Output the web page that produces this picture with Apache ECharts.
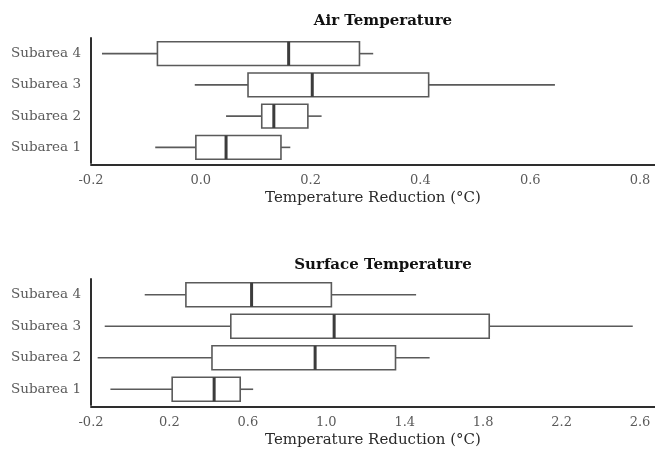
<!DOCTYPE html>
<html>
<head>
<meta charset="utf-8">
<title>Temperature Reduction by Subarea</title>
<script src="https://cdn.jsdelivr.net/npm/echarts@6/dist/echarts.min.js"></script>
<style>
  html, body { margin: 0; padding: 0; background: #fff; }
  #chart { width: 655px; height: 450px; }
</style>
</head>
<body>
<div id="chart"></div>
<script>
// Categories (bottom to top on the y axis)
const categories = ['Subarea 1', 'Subarea 2', 'Subarea 3', 'Subarea 4'];

// Air temperature reduction (°C): five-number summaries per subarea
const airMin    = [-0.083, 0.046, -0.011, -0.180];
const airQ1     = [-0.009, 0.111,  0.086, -0.079];
const airMedian = [ 0.046, 0.133,  0.203,  0.160];
const airQ3     = [ 0.146, 0.195,  0.415,  0.289];
const airMax    = [ 0.163, 0.220,  0.645,  0.314];

// Surface temperature reduction (°C)
const surfMin    = [-0.101, -0.166, -0.130, 0.074];
const surfQ1     = [ 0.214,  0.417,  0.513, 0.284];
const surfMedian = [ 0.428,  0.943,  1.040, 0.619];
const surfQ3     = [ 0.561,  1.353,  1.831, 1.026];
const surfMax    = [ 0.627,  1.527,  2.563, 1.458];

// Axis tick labels
const airTicks  = [-0.2, 0.0, 0.2, 0.4, 0.6, 0.8];
const surfTicks = [-0.2, 0.2, 0.6, 1.0, 1.4, 1.8, 2.2, 2.6];

const FONT = 'DejaVu Serif';
const BOX_COLOR = '#5a5a5a';
const MEDIAN_COLOR = '#3c3c3c';

function buildRows(mins, q1s, meds, q3s, maxs) {
  return categories.map((c, i) => [i, mins[i], q1s[i], meds[i], q3s[i], maxs[i]]);
}

function renderBox(params, api) {
  const cat = api.value(0);
  const pMin = api.coord([api.value(1), cat]);
  const pQ1  = api.coord([api.value(2), cat]);
  const pMed = api.coord([api.value(3), cat]);
  const pQ3  = api.coord([api.value(4), cat]);
  const pMax = api.coord([api.value(5), cat]);
  const band = api.size([0, 1])[1];
  const h = band * 0.76;
  const y = pMed[1];
  return {
    type: 'group',
    children: [
      { type: 'line', shape: { x1: pMin[0], y1: y, x2: pQ1[0], y2: y },
        style: { stroke: BOX_COLOR, lineWidth: 1.6 } },
      { type: 'line', shape: { x1: pQ3[0], y1: y, x2: pMax[0], y2: y },
        style: { stroke: BOX_COLOR, lineWidth: 1.6 } },
      { type: 'rect', shape: { x: pQ1[0], y: y - h / 2, width: pQ3[0] - pQ1[0], height: h },
        style: { fill: '#ffffff', stroke: BOX_COLOR, lineWidth: 1.6 } },
      { type: 'line', shape: { x1: pMed[0], y1: y - h / 2, x2: pMed[0], y2: y + h / 2 },
        style: { stroke: MEDIAN_COLOR, lineWidth: 3 } }
    ]
  };
}

function tickFormatter(ticks) {
  return function (v) {
    const hit = ticks.find(t => Math.abs(t - v) < 1e-6);
    return hit === undefined ? '' : hit.toFixed(1);
  };
}

function axisLine() {
  return { show: true, onZero: false, lineStyle: { color: '#2e2e2e', width: 2 } };
}

function valueAxis(gridIndex, ticks, step, maxExtra) {
  return {
    type: 'value',
    gridIndex: gridIndex,
    min: ticks[0],
    max: ticks[ticks.length - 1] + maxExtra,
    interval: step,
    offset: 2,
    axisLine: axisLine(),
    axisTick: { show: false },
    splitLine: { show: false },
    axisLabel: {
      formatter: tickFormatter(ticks),
      showMaxLabel: false,
      color: '#5a5a5a',
      fontFamily: FONT,
      fontSize: 13,
      margin: 9
    },
    name: 'Temperature Reduction (°C)',
    nameLocation: 'middle',
    nameGap: 26,
    nameTextStyle: { color: '#2a2a2a', fontFamily: FONT, fontSize: 15, verticalAlign: 'top' }
  };
}

function categoryAxis(gridIndex) {
  return {
    type: 'category',
    gridIndex: gridIndex,
    data: categories,
    axisLine: axisLine(),
    axisTick: { show: false },
    axisLabel: { color: '#5a5a5a', fontFamily: FONT, fontSize: 13.5, margin: 10 }
  };
}

const chart = echarts.init(document.getElementById('chart'), null, { renderer: 'canvas' });

chart.setOption({
  animation: false,
  backgroundColor: '#ffffff',
  title: [
    { text: 'Air Temperature', left: 378, top: 9, textAlign: 'center',
      textStyle: { fontFamily: FONT, fontWeight: 'bold', fontSize: 15, color: '#111' } },
    { text: 'Surface Temperature', left: 378, top: 253, textAlign: 'center',
      textStyle: { fontFamily: FONT, fontWeight: 'bold', fontSize: 15, color: '#111' } }
  ],
  grid: [
    { left: 91, right: 0, top: 38, height: 125 },
    { left: 91, right: 0, top: 279, height: 126 }
  ],
  xAxis: [
    valueAxis(0, airTicks, 0.2, 15 / 550),
    valueAxis(1, surfTicks, 0.2, 15 / 196.25)
  ],
  yAxis: [categoryAxis(0), categoryAxis(1)],
  series: [
    {
      type: 'custom', name: 'Air Temperature',
      xAxisIndex: 0, yAxisIndex: 0,
      renderItem: renderBox,
      encode: { x: [1, 2, 3, 4, 5], y: 0 },
      data: buildRows(airMin, airQ1, airMedian, airQ3, airMax)
    },
    {
      type: 'custom', name: 'Surface Temperature',
      xAxisIndex: 1, yAxisIndex: 1,
      renderItem: renderBox,
      encode: { x: [1, 2, 3, 4, 5], y: 0 },
      data: buildRows(surfMin, surfQ1, surfMedian, surfQ3, surfMax)
    }
  ]
});
</script>
</body>
</html>
